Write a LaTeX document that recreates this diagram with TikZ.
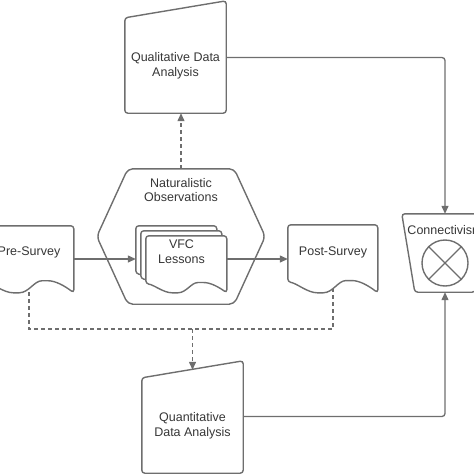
\documentclass[tikz,border=0pt]{standalone}
\usepackage{fontspec}
\setmainfont{Liberation Sans}
\usepackage{tikz}
\usetikzlibrary{calc,arrows.meta}

\definecolor{linegray}{HTML}{6E6E6E}
\definecolor{textgray}{HTML}{363636}

% document outline: top-left corner, width, height
\newcommand{\docoutline}[3]{%
\draw[shapeline, fill=white, shift={(#1)}] (0,0) -- (#2,0) -- (#2,#3)
  .. controls (0.9*#2,0.9*#3) and (0.8*#2,0.82*#3) .. (0.68*#2,0.82*#3)
  .. controls (0.56*#2,0.82*#3) and (0.5*#2,#3) .. (0.36*#2,#3)
  .. controls (0.22*#2,#3) and (0.1*#2,0.86*#3) .. (0,0.84*#3) -- cycle;}

\begin{document}
\begin{tikzpicture}[x=1pt, y=-1pt,
  shapeline/.style={draw=linegray, line width=1.4pt, rounded corners=3pt},
  box/.style={inner sep=0pt, text=textgray, align=center,
    font=\fontsize{12.5}{14.8}\selectfont},
  arr/.style={draw=linegray, line width=1.3pt, -{Triangle[length=8pt,width=7pt]}},
  dashline/.style={draw=linegray, line width=1.3pt, dash pattern=on 4pt off 3pt},
  dasharr/.style={dashline, -{Triangle[length=8pt,width=7pt]}}]
\useasboundingbox (0,0) rectangle (474,474);

\node[box, minimum width=101, minimum height=95] (qual) at (175.5,65.5) {Qualitative Data\\Analysis};
\node[box, minimum width=168, minimum height=135] (hex) at (181,236.5) {};
\node[box] (obs) at (181,190) {Naturalistic\\Observations};
\node[box, minimum width=91, minimum height=52] (vfc) at (181.5,252) {};
\node[box, minimum width=90, minimum height=52] (pre) at (29,252) {};
\node[box, minimum width=90, minimum height=54] (post) at (333,252) {};
\node[box, minimum width=86, text height=20, text depth=58] (conn) at (445,253) {Connectivism};
\node[box, minimum width=101, minimum height=95] (quant) at (192.5,425.5) {Quantitative\\Data Analysis};
\coordinate (split) at (192.5,329);

% dashed lines under the documents
\draw[dashline] (pre.south) |- (split) -| (post.south);
\draw[dasharr] (split) -- ([yshift=8pt]quant.north);
\draw[dasharr] (hex.north) -- (hex.north |- qual.south);

% outlines
\draw[shapeline] (qual.south west) -- (qual.north west) -- ($(qual.north east)+(0,-17)$) -- (qual.south east) -- cycle;
\draw[shapeline] (quant.south west) -- (quant.north west) -- ($(quant.north east)+(0,-17)$) -- (quant.south east) -- cycle;
\draw[shapeline, rounded corners=5pt] (hex.west) -- ($(hex.north west)+(31,0)$) -- ($(hex.north east)+(-31,0)$)
  -- (hex.east) -- ($(hex.south east)+(-31,0)$) -- ($(hex.south west)+(31,0)$) -- cycle;
\docoutline{pre.north west}{90}{67}
\docoutline{post.north west}{90}{68}
\docoutline{vfc.north west}{81}{57}
\docoutline{$(vfc.north west)+(5,5)$}{81}{57}
\docoutline{$(vfc.north west)+(10,10)$}{81}{57}
\draw[shapeline] (conn.north west) -- (conn.north east) -- ($(conn.south east)+(-13,0)$) -- ($(conn.south west)+(13,0)$) -- cycle;
\node[circle, draw=linegray, line width=1.4pt, minimum size=46, inner sep=0pt] (mix) at ([yshift=-10pt]conn.center) {};
\draw[linegray, line width=1.4pt] (mix.north west) -- (mix.south east) (mix.north east) -- (mix.south west);

% texts on top of the documents
\node[box] at (pre.center) {Pre-Survey};
\node[box] at (post.center) {Post-Survey};
\node[box] at (vfc.center) {VFC\\Lessons};

% connectors
\draw[arr] ([yshift=-7pt]pre.east) -- ([yshift=-7pt]vfc.west);
\draw[arr] ([yshift=-7pt]vfc.east) -- ([yshift=-7pt]post.west);
\draw[arr, rounded corners=3pt] ([yshift=8pt]qual.east) -| (conn.north);
\draw[arr, rounded corners=3pt] ([yshift=9pt]quant.east) -| (conn.south);
\end{tikzpicture}
\end{document}
